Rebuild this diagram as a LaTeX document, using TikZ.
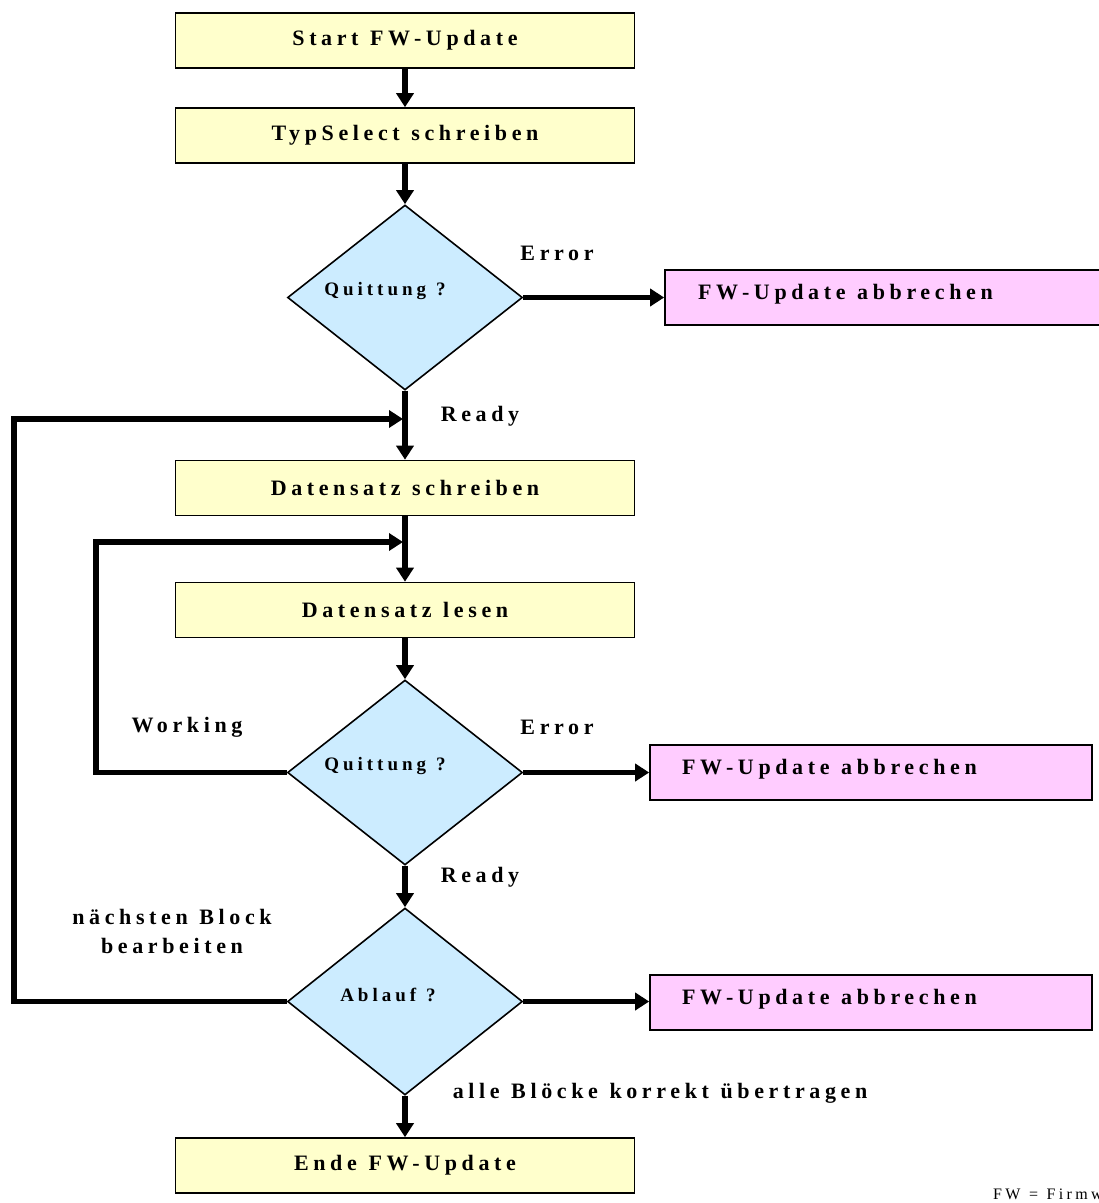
\documentclass[tikz,border=0pt]{standalone}
\usepackage{fontspec}
\setmainfont{Liberation Serif}
\newfontfamily\lblfont[LetterSpace=21,WordSpace=1.15]{Liberation Serif}
\usetikzlibrary{shapes.geometric,arrows.meta}
\definecolor{procfill}{HTML}{FFFFCC}
\definecolor{decfill}{HTML}{CCECFF}
\definecolor{abortfill}{HTML}{FFCCFF}
\tikzset{
  proc/.style={draw, line width=1.6pt, fill=procfill, minimum width=459pt, minimum height=55pt, inner sep=0pt,
    font=\lblfont\bfseries\fontsize{22}{26}\selectfont},
  dec/.style={draw, diamond, line width=1.6pt, fill=decfill, minimum width=235pt, minimum height=185pt, inner sep=0pt},
  dectext/.style={inner sep=0pt, font=\lblfont\bfseries\fontsize{19}{22}\selectfont},
  abort/.style={draw, line width=1.6pt, fill=abortfill, minimum height=55pt, inner sep=0pt},
  aborttext/.style={anchor=west, inner sep=0pt, font=\lblfont\bfseries\fontsize{22}{26}\selectfont},
  lbl/.style={inner sep=0pt, align=center, font=\lblfont\bfseries\fontsize{22}{29}\selectfont},
  arr/.style={line width=5.5pt, -{Triangle[length=14pt,width=17pt]}, line join=miter},
}
\begin{document}
\begin{tikzpicture}[x=1pt,y=-1pt]
\useasboundingbox (0,0) rectangle (1099,1203);
% process boxes
\node[proc] (start) at (405,40.5) {Start FW-Update};
\node[proc] (typ) at (405,135.5) {TypSelect schreiben};
\node[proc] (ds) at (405,488) {Datensatz schreiben};
\node[proc] (dl) at (405,610) {Datensatz lesen};
\node[proc] (ende) at (405,1165.5) {Ende FW-Update};
% decisions
\node[dec] (d1) at (405,297.5) {};
\node[dec] (d2) at (405,772.5) {};
\node[dec, minimum height=187pt] (d3) at (405,1001.5) {};
\node[dectext] (d1t) at (385,291) {Quittung ?};
\node[dectext] (d2t) at (385,766) {Quittung ?};
\node[dectext] (d3t) at (388,995) {Ablauf ?};
% abort boxes
\node[abort, minimum width=440pt] (p1) at (885,297.5) {};
\node[abort, minimum width=442pt] (p2) at (871,772.5) {};
\node[abort, minimum width=442pt] (p3) at (871,1002.5) {};
\node[aborttext] (p1t) at (698,294) {FW-Update abbrechen};
\node[aborttext] (p2t) at (682,769) {FW-Update abbrechen};
\node[aborttext] (p3t) at (682,999) {FW-Update abbrechen};
% labels
\node[lbl] (err1) at (557,253) {Error};
\node[lbl] (rdy1) at (480,416) {Ready};
\node[lbl] (work) at (187,727) {Working};
\node[lbl] (err2) at (557,727) {Error};
\node[lbl] (rdy2) at (480,877) {Ready};
\node[lbl] (next) at (172,931) {nächsten Block\\bearbeiten};
\node[lbl] (alle) at (660,1093) {alle Blöcke korrekt übertragen};
\node[anchor=west, inner sep=0pt, font=\lblfont\fontsize{16}{19}\selectfont] (fw) at (993,1194) {FW = Firmware};
% join coordinates
\coordinate (c1) at (14,419);
\coordinate (j1) at (403,419);
\coordinate (c2) at (96,542);
\coordinate (j2) at (403,542);
% connectors
\draw[arr] (start.south) -- (typ.north);
\draw[arr] (typ.south) -- (d1.north);
\draw[arr] (d1.east) -- (p1.west);
\draw[arr] (d1.south) -- (ds.north);
\draw[arr] (ds.south) -- (dl.north);
\draw[arr] (dl.south) -- (d2.north);
\draw[arr] (d2.east) -- (p2.west);
\draw[arr] (d2.south) -- (d3.north);
\draw[arr] (d3.east) -- (d3.east -| p3.west);
\draw[arr] (d3.south) -- (ende.north);
\draw[arr] (d3.west) -| (c1) -- (j1);
\draw[arr] (d2.west) -| (c2) -- (j2);
\end{tikzpicture}
\end{document}
